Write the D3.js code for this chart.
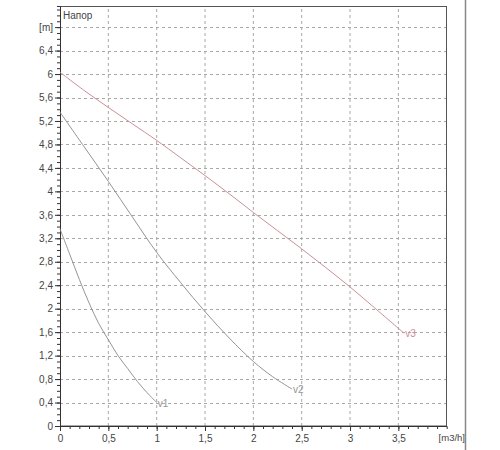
<!DOCTYPE html>
<html><head><meta charset="utf-8">
<script src="https://cdn.jsdelivr.net/npm/d3@7"></script>
<style>body{margin:0;background:#fff}svg{display:block}</style>
</head><body>
<svg id="c" width="500" height="450"></svg>
<script>
const seriesNames = ["v1", "v2", "v3"];
const v1 = [[0,3.36],[0.1,2.93],[0.2,2.5],[0.3,2.1],[0.4,1.75],[0.5,1.47],[0.6,1.2],[0.7,0.98],[0.8,0.76],[0.9,0.57],[1.0,0.4]];
const v2 = [[0,5.35],[0.25,4.76],[0.5,4.17],[0.75,3.56],[1.0,2.96],[1.25,2.44],[1.5,1.95],[1.75,1.5],[2.0,1.1],[2.2,0.84],[2.4,0.63]];
const v3 = [[0,6.03],[0.25,5.72],[0.5,5.43],[0.75,5.15],[1.0,4.87],[1.25,4.57],[1.5,4.27],[1.75,3.96],[2.0,3.64],[2.25,3.33],[2.5,3.02],[2.75,2.7],[3.0,2.37],[3.25,2.02],[3.56,1.58]];
const xTickLabels = ["0","0,5","1","1,5","2","2,5","3","3,5"];
const yTickLabels = ["0","0,4","0,8","1,2","1,6","2","2,4","2,8","3,2","3,6","4","4,4","4,8","5,2","5,6","6","6,4","[m]"];
const yTitle = "Напор";
const xUnit = "[m3/h]";
const colors = ["#959595", "#959595", "#c99196"];

const svg = d3.select("#c");
const x = d3.scaleLinear().domain([0, 4]).range([60, 446.7]);
const y = d3.scaleLinear().domain([0, 7.16]).range([426, 6]);
const font = "Arial, 'Liberation Sans', sans-serif";

// grid
const xMajor = d3.range(0, 4, 0.5).map(v => +v.toFixed(1));
const yMajor = d3.range(0, 18).map(i => +(i * 0.4).toFixed(1));
svg.append("g").selectAll("line").data(xMajor.slice(1)).join("line")
  .attr("x1", d => x(d)).attr("x2", d => x(d)).attr("y1", y(0)).attr("y2", y(7.16))
  .attr("stroke", "#a8a8a8").attr("stroke-dasharray", "3,3").attr("stroke-width", 1);
svg.append("g").selectAll("line").data(yMajor.slice(1)).join("line")
  .attr("x1", x(0)).attr("x2", x(4)).attr("y1", d => Math.round(y(d)) + 0.5).attr("y2", d => Math.round(y(d)) + 0.5)
  .attr("stroke", "#a8a8a8").attr("stroke-dasharray", "3,3").attr("stroke-width", 1);

// frame
svg.append("rect").attr("x", 60.5).attr("y", 6.5).attr("width", 386).attr("height", 419.5)
  .attr("fill", "none").attr("stroke", "#555").attr("stroke-width", 1);
svg.append("line").attr("x1", 465.5).attr("x2", 465.5).attr("y1", 0).attr("y2", 450)
  .attr("stroke", "#888").attr("stroke-width", 1.5);

// x axis
const xMinor = d3.range(0, 40).map(i => +(i * 0.1).toFixed(1));
const xAxis = d3.axisBottom(x).tickValues(xMinor).tickSize(3).tickFormat("");
const gx = svg.append("g").attr("transform", `translate(0,${y(0)})`).call(xAxis);
gx.select(".domain").attr("stroke", "#333");
gx.selectAll(".tick line").attr("stroke", "#333");
const xMajorAxis = d3.axisBottom(x).tickValues(xMajor).tickSize(5).tickPadding(4)
  .tickFormat((d, i) => xTickLabels[i]);
const gx2 = svg.append("g").attr("transform", `translate(0,${y(0)})`).call(xMajorAxis);
gx2.select(".domain").remove();
gx2.selectAll(".tick line").attr("stroke", "#333");
gx2.selectAll("text").attr("font-family", font).attr("font-size", 10).attr("fill", "#444");

// y axis
const yMinor = d3.range(0, 72).map(i => +(i * 0.1).toFixed(1));
const yAxis = d3.axisLeft(y).tickValues(yMinor).tickSize(3).tickFormat("");
const gy = svg.append("g").attr("transform", `translate(${x(0)},0)`).call(yAxis);
gy.select(".domain").attr("stroke", "#333");
gy.selectAll(".tick line").attr("stroke", "#333");
const yMajorAxis = d3.axisLeft(y).tickValues(yMajor).tickSize(5).tickPadding(2)
  .tickFormat((d, i) => yTickLabels[i]);
const gy2 = svg.append("g").attr("transform", `translate(${x(0)},0)`).call(yMajorAxis);
gy2.select(".domain").remove();
gy2.selectAll(".tick line").attr("stroke", "#333");
gy2.selectAll("text").attr("font-family", font).attr("font-size", 10).attr("fill", "#444");

// titles
svg.append("text").attr("x", x(0) + 3).attr("y", 19).text(yTitle)
  .attr("font-family", font).attr("font-size", 10).attr("fill", "#444");
svg.append("text").attr("x", 465).attr("y", 441).attr("text-anchor", "end").text(xUnit)
  .attr("font-family", font).attr("font-size", 9.5).attr("fill", "#444");

// curves
const line = d3.line().x(d => x(d[0])).y(d => y(d[1])).curve(d3.curveCatmullRom.alpha(0.5));
[v1, v2, v3].forEach((s, i) => {
  svg.append("path").datum(s).attr("d", line).attr("fill", "none")
    .attr("stroke", colors[i]).attr("stroke-width", 1);
  const last = s[s.length - 1];
  svg.append("text").attr("x", x(last[0]) + 1).attr("y", y(last[1]) + 4).text(seriesNames[i])
    .attr("font-family", font).attr("font-size", 10).attr("fill", colors[i]);
});
</script>
</body></html>
